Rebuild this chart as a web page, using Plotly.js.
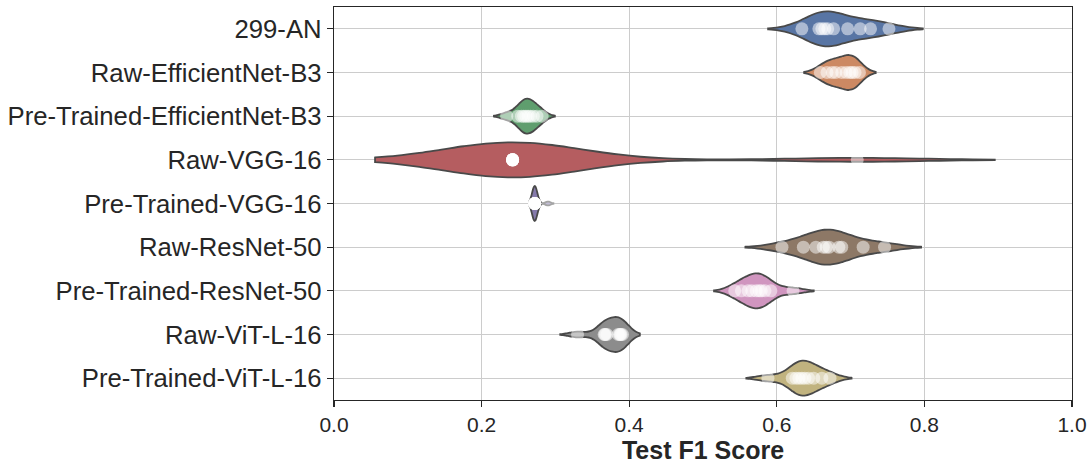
<!DOCTYPE html>
<html>
<head>
<meta charset="utf-8">
<script src="https://cdn.plot.ly/plotly-3.0.1.min.js"></script>
<style>html,body{margin:0;padding:0;background:#fff;}#chart{width:1091px;height:464px;}</style>
</head>
<body>
<div id="chart"></div>
<script>
// Categories (top to bottom)
const categories = [
  "299-AN", "Raw-EfficientNet-B3", "Pre-Trained-EfficientNet-B3", "Raw-VGG-16",
  "Pre-Trained-VGG-16", "Raw-ResNet-50", "Pre-Trained-ResNet-50", "Raw-ViT-L-16",
  "Pre-Trained-ViT-L-16"
];
// Test F1 scores per model (10 runs each)
const scores_299AN = [0.634, 0.657, 0.661, 0.665, 0.669, 0.677, 0.696, 0.713, 0.727, 0.752];
const scores_RawEff = [0.659, 0.668, 0.675, 0.680, 0.688, 0.694, 0.699, 0.702, 0.706, 0.712];
const scores_PreEff = [0.234, 0.249, 0.254, 0.257, 0.260, 0.263, 0.266, 0.270, 0.275, 0.282];
const scores_RawVGG = [0.242, 0.242, 0.242, 0.242, 0.242, 0.242, 0.242, 0.242, 0.242, 0.709];
const scores_PreVGG = [0.272, 0.272, 0.272, 0.272, 0.272, 0.272, 0.272, 0.272, 0.272, 0.290];
const scores_RawRes = [0.607, 0.636, 0.653, 0.663, 0.667, 0.671, 0.684, 0.688, 0.717, 0.746];
const scores_PreRes = [0.543, 0.552, 0.561, 0.566, 0.572, 0.576, 0.579, 0.584, 0.592, 0.622];
const scores_RawViT = [0.330, 0.366, 0.367, 0.368, 0.370, 0.385, 0.387, 0.388, 0.389, 0.391];
const scores_PreViT = [0.588, 0.621, 0.626, 0.630, 0.634, 0.638, 0.643, 0.650, 0.661, 0.672];
const allScores = [scores_299AN, scores_RawEff, scores_PreEff, scores_RawVGG, scores_PreVGG,
                   scores_RawRes, scores_PreRes, scores_RawViT, scores_PreViT];
// seaborn "deep" palette at 0.75 saturation
const colors = ["#5875A4", "#CC8963", "#5F9E6E", "#B55D60", "#857AAB",
                "#8D7866", "#D095BF", "#8C8C8C", "#C1B37F"];

function scottBw(v) {
  const n = v.length;
  const m = v.reduce((a, b) => a + b, 0) / n;
  const sd = Math.sqrt(v.reduce((a, b) => a + (b - m) * (b - m), 0) / (n - 1));
  return sd * Math.pow(n, -0.2);
}

const traces = [];
categories.forEach((c, i) => {
  const vals = allScores[i];
  traces.push({
    type: "violin", orientation: "h",
    x: vals, y: vals.map(() => c),
    bandwidth: scottBw(vals), spanmode: "soft", scalemode: "width", width: 0.8,
    fillcolor: colors[i], opacity: 1,
    line: {color: "#494949", width: 1.8},
    points: false, box: {visible: false}, meanline: {visible: false},
    showlegend: false, hoverinfo: "skip"
  });
});
categories.forEach((c, i) => {
  const vals = allScores[i];
  traces.push({
    type: "scatter", mode: "markers",
    x: vals, y: vals.map(() => c),
    marker: {color: "#ffffff", size: 13, opacity: 0.5, line: {width: 0}},
    showlegend: false, hoverinfo: "skip"
  });
});

const axisColor = "#262626";
const layout = {
  width: 1091, height: 464,
  margin: {l: 334, r: 19, t: 7, b: 64},
  paper_bgcolor: "#ffffff", plot_bgcolor: "#ffffff",
  violinmode: "overlay",
  font: {family: "Liberation Sans, Arial, sans-serif", color: axisColor},
  xaxis: {
    range: [0, 1], tickvals: [0, 0.2, 0.4, 0.6, 0.8, 1.0], ticktext: ["0.0", "0.2", "0.4", "0.6", "0.8", "1.0"],
    showgrid: true, gridcolor: "#cccccc", gridwidth: 1,
    showline: true, linecolor: axisColor, linewidth: 1.25, mirror: true,
    ticks: "outside", ticklen: 6, tickwidth: 1.25, tickcolor: axisColor,
    tickfont: {size: 21, color: axisColor},
    zeroline: false,
    title: {text: "<b>Test F1 Score</b>", font: {size: 25, color: axisColor}, standoff: 6}
  },
  yaxis: {
    type: "category", categoryorder: "array", categoryarray: categories,
    range: [categories.length - 0.5, -0.5],
    showgrid: true, gridcolor: "#cccccc", gridwidth: 1,
    showline: true, linecolor: axisColor, linewidth: 1.25, mirror: true,
    ticks: "outside", ticklen: 6, tickwidth: 1.25, tickcolor: axisColor,
    tickfont: {size: 25.7, color: axisColor},
    zeroline: false
  }
};
Plotly.newPlot("chart", traces, layout, {staticPlot: true, displayModeBar: false});
</script>
</body>
</html>
